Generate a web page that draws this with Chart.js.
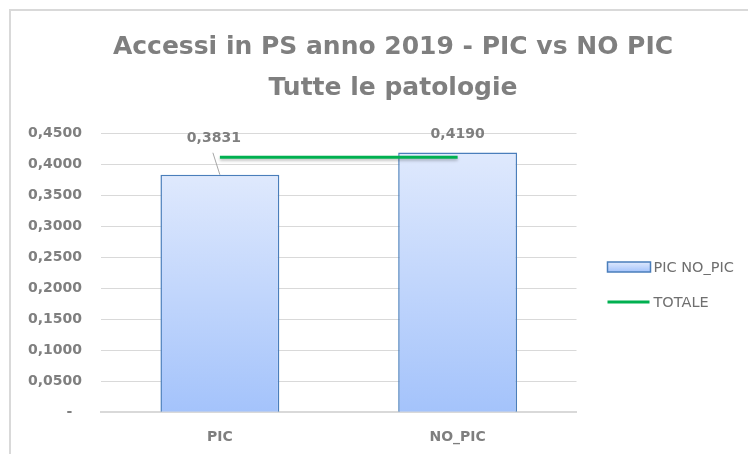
<!DOCTYPE html>
<html>
<head>
<meta charset="utf-8">
<script src="https://cdn.jsdelivr.net/npm/chart.js@4"></script>
<style>
  html, body { margin: 0; padding: 0; background: #fff; overflow: hidden; }
  #frame {
    position: absolute; left: 9px; top: 9px;
    border-left: 2px solid #d9d9d9; border-top: 2px solid #d9d9d9;
    width: 760px; height: 450px;
  }
  #wrap { width: 754px; height: 443px; }
</style>
</head>
<body>
<div id="frame"><div id="wrap"><canvas id="myChart"></canvas></div></div>
<script>
// dati
const categorie = ["PIC", "NO_PIC"];
const valoriPicNoPic = [0.3831, 0.4190];
const valoriTotale = [0.4115, 0.4115];
const etichetteSerie = ["PIC NO_PIC", "TOTALE"];
const titolo = ["Accessi in PS anno 2019 - PIC vs NO PIC", "Tutte le patologie"];

const grigio = "#7f7f7f";
const font = "'DejaVu Sans', sans-serif";

function formatta(v) {
    if (v === 0) return "-  ";
    return v.toFixed(4).replace(".", ",");
}

// gradiente per ogni barra (chiaro in alto, piu scuro in basso)
function sfondoBarra(ctx) {
    const chart = ctx.chart;
    const area = chart.chartArea;
    if (!area || !chart.scales.y || ctx.raw === undefined) return "#c5d9fb";
    const top = chart.scales.y.getPixelForValue(ctx.raw);
    const g = chart.ctx.createLinearGradient(0, top, 0, area.bottom);
    g.addColorStop(0, "#dfe9fd");
    g.addColorStop(1, "#a4c3fb");
    return g;
}

// etichette dei valori sopra le barre
const spostamenti = [{dx: -6, dy: -36, guida: true}, {dx: 0, dy: -18, guida: false}];
const pluginEtichette = {
    id: "etichette",
    afterDatasetsDraw(chart) {
        const meta = chart.getDatasetMeta(0);
        const c = chart.ctx;
        c.save();
        c.font = "bold 14px " + font;
        c.fillStyle = grigio;
        c.textAlign = "center";
        c.textBaseline = "middle";
        meta.data.forEach((bar, i) => {
            const s = spostamenti[i];
            const x = bar.x + s.dx;
            const y = bar.y + s.dy;
            c.fillText(formatta(valoriPicNoPic[i]), x, y);
            if (s.guida) {
                c.strokeStyle = "#a6a6a6";
                c.lineWidth = 1;
                c.beginPath();
                c.moveTo(x - 1, y + 14);
                c.lineTo(bar.x, bar.y);
                c.stroke();
            }
        });
        c.restore();
    }
};

// legenda a destra, disegnata a mano
const pluginLegenda = {
    id: "legendaDestra",
    afterDraw(chart) {
        const c = chart.ctx;
        const x0 = chart.chartArea.right + 31;
        const y0 = 256;
        const passo = 35;
        c.save();
        c.font = "14.5px " + font;
        c.textBaseline = "middle";
        // barra
        const g = c.createLinearGradient(0, y0 - 5, 0, y0 + 5);
        g.addColorStop(0, "#dfe9fd");
        g.addColorStop(1, "#a4c3fb");
        c.fillStyle = g;
        c.fillRect(x0, y0 - 5, 43, 10);
        c.strokeStyle = "#4a7ebb";
        c.lineWidth = 1.5;
        c.strokeRect(x0, y0 - 5, 43, 10);
        // linea
        c.strokeStyle = "#00b050";
        c.lineWidth = 3;
        c.beginPath();
        c.moveTo(x0, y0 + passo);
        c.lineTo(x0 + 42, y0 + passo);
        c.stroke();
        c.fillStyle = "#6f6f6f";
        c.fillText(etichetteSerie[0], x0 + 46, y0 + 1);
        c.fillText(etichetteSerie[1], x0 + 46, y0 + passo + 1);
        c.restore();
    }
};

// leggera ombra sotto la linea verde
const pluginOmbra = {
    id: "ombra",
    beforeDatasetDraw(chart, args) {
        if (args.index === 1) {
            const c = chart.ctx;
            c.save();
            c.shadowColor = "rgba(0,0,0,0.25)";
            c.shadowBlur = 3;
            c.shadowOffsetY = 2;
        }
    },
    afterDatasetDraw(chart, args) {
        if (args.index === 1) chart.ctx.restore();
    }
};

const data = {
    labels: categorie,
    datasets: [
        {
            type: "bar",
            label: etichetteSerie[0],
            data: valoriPicNoPic,
            backgroundColor: sfondoBarra,
            borderColor: "#4a7ebb",
            borderWidth: 1.5,
            barPercentage: 0.5,
            categoryPercentage: 1,
            order: 1
        },
        {
            type: "line",
            label: etichetteSerie[1],
            data: valoriTotale,
            borderColor: "#00b050",
            borderWidth: 3,
            pointRadius: 0,
            fill: false,
            order: 0
        }
    ]
};

const config = {
    type: "bar",
    data,
    plugins: [pluginEtichette, pluginOmbra, pluginLegenda],
    options: {
        responsive: true,
        maintainAspectRatio: false,
        animation: false,
        layout: { padding: { left: 10, right: 0, top: 0, bottom: 0 } },
        plugins: {
            tooltip: { enabled: false },
            legend: { display: false },
            title: {
                display: true,
                text: titolo,
                color: grigio,
                font: { family: font, size: 25, weight: "bold", lineHeight: 1.66 },
                padding: { top: 15.5, bottom: 23.8 }
            }
        },
        scales: {
            x: {
                grid: { display: false },
                border: { color: "#d9d9d9", width: 2 },
                ticks: { color: grigio, padding: 8.5, font: { family: font, size: 14, weight: "bold" } }
            },
            y: {
                min: 0,
                max: 0.45,
                grid: { color: "#d9d9d9", lineWidth: 1, drawTicks: false },
                border: { display: false },
                ticks: {
                    stepSize: 0.05,
                    padding: 19,
                    color: grigio,
                    font: { family: font, size: 14, weight: "bold" },
                    callback: (v) => formatta(Math.round(v * 10000) / 10000)
                },
                afterFit(s) { s.width = 80; }
            },
            // asse vuoto che lascia lo spazio per la legenda
            spazio: {
                axis: "y",
                position: "right",
                display: true,
                grid: { display: false },
                border: { display: false },
                ticks: { display: false },
                afterFit(s) { s.width = 188.5; }
            }
        }
    }
};

const canvas = document.querySelector("#myChart");
const myChart = new Chart(canvas, config);
</script>
</body>
</html>
